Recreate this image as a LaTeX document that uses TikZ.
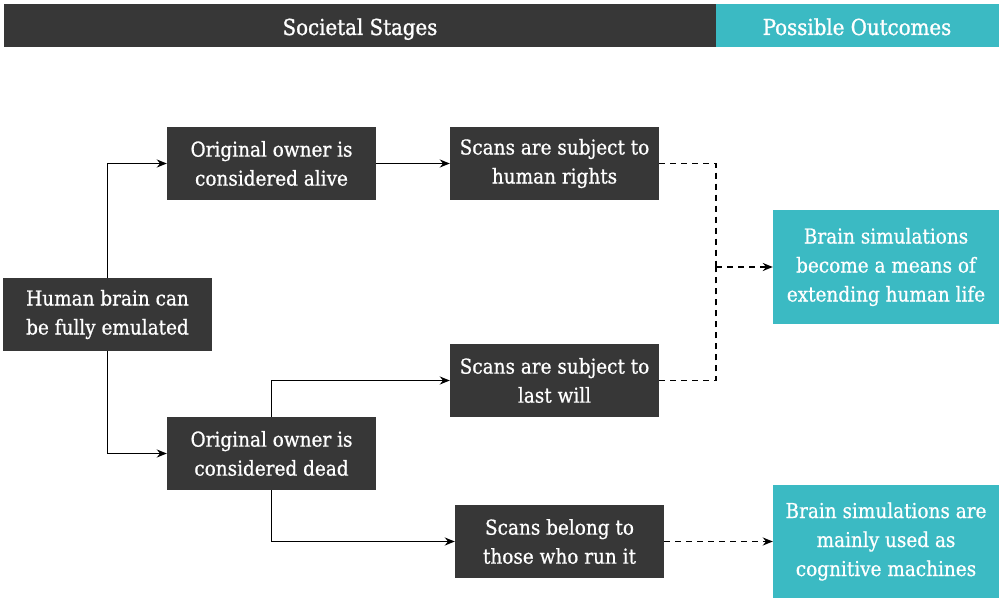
\documentclass[tikz,border=0pt]{standalone}
\usepackage{fontspec}
\setmainfont{DejaVu Serif Condensed}[FakeBold=0.7]
\newfontfamily\hdrfont{DejaVu Serif Condensed}[FakeBold=1.2]
\usetikzlibrary{arrows.meta}
\definecolor{dark}{HTML}{373737}
\definecolor{teal}{HTML}{3BBAC3}
\begin{document}
\begin{tikzpicture}[x=1pt,y=-1pt,
  box/.style={fill=dark,text=white,minimum width=209pt,minimum height=73pt,inner sep=0pt,align=center,font=\fontsize{20.5}{29}\selectfont},
  outbox/.style={fill=teal,text=white,minimum width=226pt,align=center,inner sep=0pt,font=\fontsize{20.5}{29}\selectfont},
  hdr/.style={text=white,inner sep=0pt,anchor=base,font=\hdrfont\fontsize{22}{26}\selectfont},
  conn/.style={draw=black,line width=1.6pt,-{Stealth[length=10pt,width=8pt]}},
  dconn/.style={draw=black,line width=1.6pt,dash pattern=on 6pt off 5pt}
]
\useasboundingbox (0,0) rectangle (1003,601);
\fill[dark] (4,4) rectangle (716,47);
\fill[teal] (716,4) rectangle (999,47);
\node[hdr] (h1) at (360,35) {Societal Stages};
\node[hdr] (h2) at (857,35) {Possible Outcomes};

\node[box] (human) at (107.5,314.5) {Human brain can\\be fully emulated};
\node[box] (alive) at (271.5,163.5) {Original owner is\\considered alive};
\node[box] (rights) at (554.5,163.5) {Scans are subject to\\human rights};
\node[box] (will) at (554.5,380.5) {Scans are subject to\\last will};
\node[box] (dead) at (271.5,453.5) {Original owner is\\considered dead};
\node[box] (belong) at (559.5,541.5) {Scans belong to\\those who run it};
\node[outbox,minimum height=114pt] (extend) at (886,267) {Brain simulations\\become a means of\\extending human life};
\node[outbox,minimum height=113pt] (cog) at (886,541.5) {Brain simulations are\\mainly used as\\cognitive machines};

\coordinate (j) at (716,267);

\draw[conn] (human.north) |- (alive.west);
\draw[conn] (human.south) |- (dead.west);
\draw[conn] (alive.east) -- (rights.west);
\draw[conn] (dead.north) |- (will.west);
\draw[conn] (dead.south) |- (belong.west);
\draw[dconn] (rights.east) -| (j);
\draw[dconn] (will.east) -| (j);
\draw[dconn,-{Stealth[length=10pt,width=8pt]}] (j) -- (extend.west);
\draw[dconn,-{Stealth[length=10pt,width=8pt]}] (belong.east) -- (cog.west);
\end{tikzpicture}
\end{document}
